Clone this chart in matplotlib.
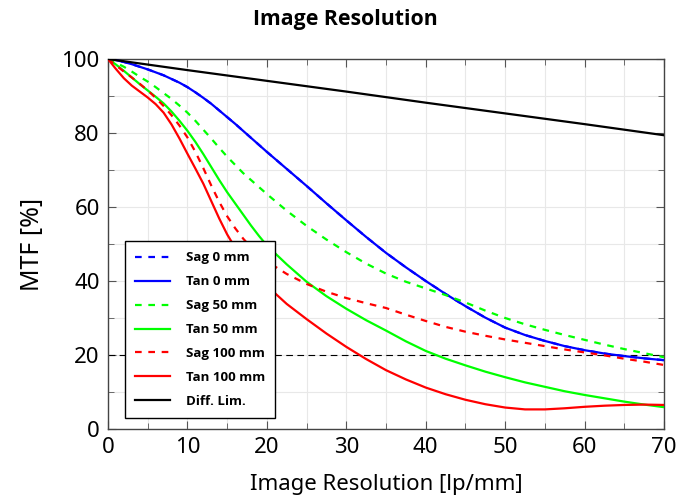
import matplotlib
matplotlib.use("Agg")
import matplotlib.pyplot as plt
from matplotlib.ticker import MultipleLocator

x = [0, 1, 2, 3, 4, 5, 6, 7, 8, 9, 10, 11, 12, 13, 14, 15, 16, 17, 18, 19, 20,
     22.5, 25, 27.5, 30, 32.5, 35, 37.5, 40, 42.5, 45, 47.5, 50, 52.5, 55, 57.5, 60, 62.5, 65, 67.5, 70]

tan0 = [100, 99.7, 99.2, 98.6, 97.9, 97.2, 96.4, 95.6, 94.6, 93.6, 92.4, 91.0, 89.5, 87.9, 86.1, 84.3, 82.5, 80.6, 78.7, 76.8, 74.9,
        70.3, 65.7, 61.0, 56.4, 51.9, 47.6, 43.7, 40.0, 36.5, 33.2, 30.1, 27.4, 25.4, 23.8, 22.4, 21.3, 20.4, 19.7, 19.1, 18.6]
sag0 = tan0
sag50 = [100, 99.0, 97.9, 96.6, 95.2, 93.9, 92.4, 90.8, 89.2, 87.4, 85.5, 83.3, 80.9, 78.5, 76.0, 73.6, 71.4, 69.2, 67.3, 65.4, 63.5,
         59.0, 54.9, 51.2, 47.8, 44.7, 42.0, 39.8, 38.0, 36.2, 34.2, 32.0, 30.0, 28.3, 26.8, 25.4, 24.1, 22.8, 21.6, 20.5, 19.4]
tan50 = [100, 98.5, 96.8, 95.0, 93.2, 91.5, 89.8, 88.0, 85.8, 83.3, 80.6, 77.6, 74.3, 70.8, 67.3, 64.0, 61.0, 58.0, 55.0, 52.2, 49.6,
         44.5, 39.8, 35.9, 32.5, 29.4, 26.6, 23.7, 21.1, 19.0, 17.2, 15.5, 14.0, 12.6, 11.4, 10.2, 9.2, 8.3, 7.4, 6.6, 5.9]
sag100 = [100, 98.3, 96.6, 95.0, 93.3, 91.5, 89.5, 87.3, 84.8, 82.0, 78.8, 74.9, 70.5, 65.8, 61.4, 57.5, 54.3, 51.5, 49.1, 47.0, 45.3,
          41.9, 39.2, 37.1, 35.4, 34.0, 32.7, 30.9, 29.2, 27.6, 26.3, 25.2, 24.2, 23.3, 22.4, 21.5, 20.7, 19.9, 19.0, 18.2, 17.3]
tan100 = [100, 97.3, 94.8, 92.8, 91.2, 89.6, 87.8, 85.5, 82.3, 78.5, 74.4, 70.4, 66.3, 61.6, 56.9, 52.6, 49.0, 46.0, 43.3, 40.9, 38.7,
          33.8, 29.7, 25.8, 22.2, 18.9, 15.9, 13.4, 11.2, 9.4, 7.9, 6.7, 5.8, 5.3, 5.3, 5.6, 6.0, 6.3, 6.5, 6.6, 6.5]
diff_x = [0, 10, 20, 30, 40, 50, 60, 70]
diff = [100, 97.0, 94.1, 91.2, 88.2, 85.3, 82.4, 79.4]
thresh_x = [0, 70]
thresh = [20, 20]

fig = plt.figure(figsize=(6.91, 5.04), dpi=100)
ax = fig.add_axes([0.1563, 0.1488, 0.8047, 0.7341])

lw = 1.6
ax.plot(thresh_x, thresh, color="black", lw=0.8, ls=(0, (6, 4)), zorder=2)
ax.plot(x, sag0, color="#0000ff", lw=lw, ls=(0, (3, 3)), label="Sag 0 mm", zorder=3)
ax.plot(x, tan0, color="#0000ff", lw=lw, label="Tan 0 mm", zorder=3)
ax.plot(x, sag50, color="#00ff00", lw=lw, ls=(0, (3, 3)), label="Sag 50 mm", zorder=3)
ax.plot(x, tan50, color="#00ff00", lw=lw, label="Tan 50 mm", zorder=3)
ax.plot(x, sag100, color="#ff0000", lw=lw, ls=(0, (3, 3)), label="Sag 100 mm", zorder=3)
ax.plot(x, tan100, color="#ff0000", lw=lw, label="Tan 100 mm", zorder=3)
ax.plot(diff_x, diff, color="black", lw=lw, label="Diff. Lim.", zorder=3)

ax.set_xlim(0, 70)
ax.set_ylim(0, 100)
ax.xaxis.set_major_locator(MultipleLocator(10))
ax.xaxis.set_minor_locator(MultipleLocator(5))
ax.yaxis.set_major_locator(MultipleLocator(20))
ax.yaxis.set_minor_locator(MultipleLocator(10))
ax.grid(True, which="both", color="#e8e8e8", lw=0.8, zorder=0)
ax.set_axisbelow(True)
ax.tick_params(which="both", direction="in", top=True, right=True, color="#555555")
ax.tick_params(which="major", length=6, labelsize=16, pad=6)
ax.tick_params(which="minor", length=4)
for lab in ax.get_xticklabels() + ax.get_yticklabels():
    lab.set_family("Noto Sans")
for s in ax.spines.values():
    s.set_color("#444444")
    s.set_linewidth(1.0)

ax.set_xlabel("Image Resolution [lp/mm]", fontsize=16, family="Noto Sans", labelpad=11)
ax.set_ylabel("MTF [%]", fontsize=18, family="Noto Sans", labelpad=12)
fig.text(0.5, 1 - 19 / 504, "Image Resolution", fontsize=15.3, fontweight="bold", family="Open Sans",
         ha="center", va="center")

leg = ax.legend(loc="lower left", bbox_to_anchor=(0.031, 0.03), prop={"family": "Open Sans", "weight": "bold", "size": 9.5},
                frameon=True, fancybox=False, edgecolor="black", framealpha=1, labelspacing=0.83,
                handlelength=2.65, borderpad=0.75, handletextpad=1.2, borderaxespad=0)
leg.get_frame().set_linewidth(1.0)

fig.savefig("out.png", dpi=100)
